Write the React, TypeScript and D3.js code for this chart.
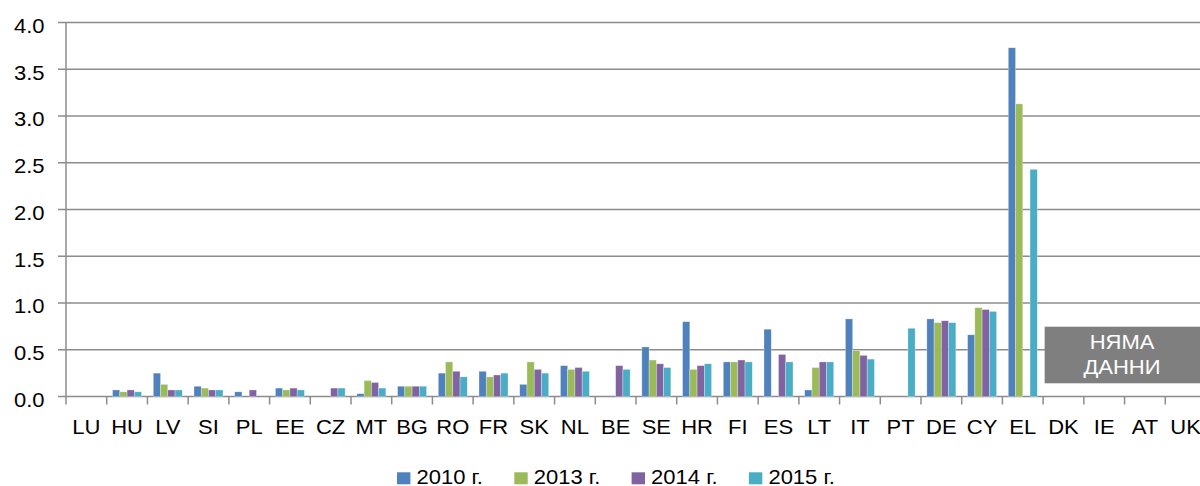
import React from "react";
import * as d3 from "d3";

const categories = ["LU","HU","LV","SI","PL","EE","CZ","MT","BG","RO","FR","SK","NL","BE","SE","HR","FI","ES","LT","IT","PT","DE","CY","EL","DK","IE","AT","UK"];
const seriesNames = ["2010 г.", "2013 г.", "2014 г.", "2015 г."];
const seriesColors = ["#4F81BD", "#9BBB59", "#8064A2", "#4BACC6"];

const v2010 = [0, 0.07, 0.25, 0.11, 0.05, 0.09, null, 0.03, 0.11, 0.25, 0.27, 0.13, 0.33, null, 0.53, 0.80, 0.37, 0.72, 0.07, 0.83, null, 0.83, 0.66, 3.73, null, null, null, null];
const v2013 = [0, 0.05, 0.13, 0.09, null, 0.07, null, 0.17, 0.11, 0.37, 0.21, 0.37, 0.29, null, 0.39, 0.29, 0.37, null, 0.31, 0.49, null, 0.79, 0.95, 3.13, null, null, null, null];
const v2014 = [0, 0.07, 0.07, 0.07, 0.07, 0.09, 0.09, 0.15, 0.11, 0.27, 0.23, 0.29, 0.31, 0.33, 0.35, 0.33, 0.39, 0.45, 0.37, 0.44, null, 0.81, 0.93, null, null, null, null, null];
const v2015 = [0, 0.05, 0.07, 0.07, null, 0.07, 0.09, 0.09, 0.11, 0.21, 0.25, 0.25, 0.27, 0.29, 0.31, 0.35, 0.37, 0.37, 0.37, 0.40, 0.73, 0.79, 0.91, 2.43, null, null, null, null];
const seriesValues = [v2010, v2013, v2014, v2015];

const yTicks = [0, 0.5, 1, 1.5, 2, 2.5, 3, 3.5, 4];
const noDataText = ["НЯМА", "ДАННИ"];
const noDataFrom = "DK";

const W = 1200, H = 486;
const left = 66, right = 1206, top = 22.5, bottom = 396.5;
const font = "'Liberation Sans', Arial, sans-serif";
const SX = 1.1;

function T({ x, y, anchor = "start", size = 20, fill = "#000", children }: any) {
  return (
    <text transform={`translate(${x},${y}) scale(${SX},1)`} textAnchor={anchor} fontSize={size} fill={fill}>
      {children}
    </text>
  );
}

export default function App() {
  const x = d3.scaleBand<string>().domain(categories).range([left, right]).paddingInner(0).paddingOuter(0);
  const bw = x.bandwidth();
  const groupW = 29;
  const x1 = d3.scaleBand<string>().domain(seriesNames).range([(bw - groupW) / 2, (bw + groupW) / 2]).padding(0);
  const y = d3.scaleLinear().domain([0, 4]).range([bottom, top]);
  const grid = "#8C8C8C";
  const boxX = x(noDataFrom)! + 1.5;

  return (
    <svg width={W} height={H} style={{ position: "absolute", left: 0, top: 0, background: "#fff" }} fontFamily={font}>
      {yTicks.map((t) => (
        <g key={t}>
          <line x1={left - 8} x2={right} y1={y(t)} y2={y(t)} stroke={grid} strokeWidth={1.5} />
          <T x={44.5} y={y(t) + 10.3} anchor="end">{t.toFixed(1)}</T>
        </g>
      ))}
      <line x1={left} x2={left} y1={top} y2={bottom} stroke={grid} strokeWidth={1.5} />
      {categories.map((c, i) => (
        <g key={c}>
          <line x1={x(c)!} x2={x(c)!} y1={bottom} y2={bottom + 8} stroke={grid} strokeWidth={1.5} />
          {seriesValues.map((vals, s) => {
            const v = vals[i];
            if (v == null || v === 0) return null;
            const bx = x(c)! + x1(seriesNames[s])!;
            return (
              <rect key={s} x={bx} y={y(v)} width={x1.bandwidth()} height={y(0) - y(v)} fill={seriesColors[s]} stroke="rgba(255,255,255,0.5)" strokeWidth={0.6} />
            );
          })}
          <T x={x(c)! + bw / 2} y={434.3} anchor="middle">{c}</T>
        </g>
      ))}
      <rect x={boxX} y={326.7} width={W - boxX} height={56.6} fill="#7F7F7F" />
      <T x={1122} y={349.3} anchor="middle" fill="#fff">{noDataText[0]}</T>
      <T x={1122} y={373.6} anchor="middle" fill="#fff">{noDataText[1]}</T>
      {seriesNames.map((n, s) => (
        <g key={n} transform={`translate(${397 + s * 117.3},0)`}>
          <rect x={0} y={472.3} width={13.4} height={12} fill={seriesColors[s]} />
          <T x={19.5} y={484.3}>{n}</T>
        </g>
      ))}
    </svg>
  );
}
